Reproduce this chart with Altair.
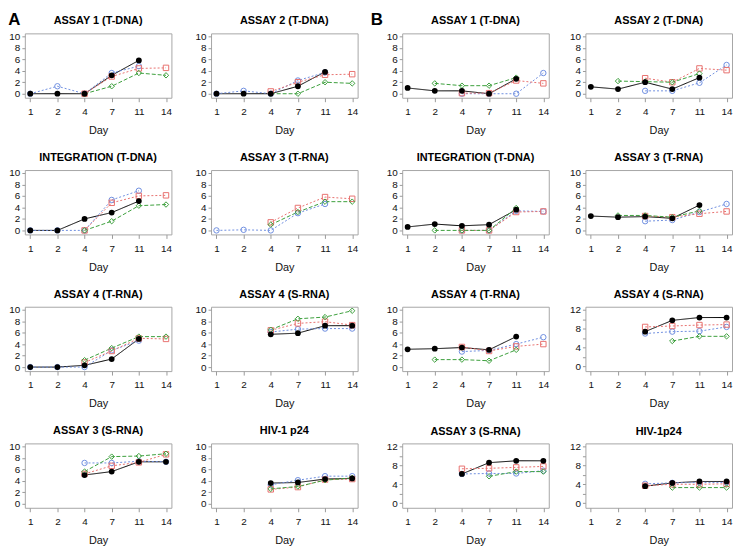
import altair as alt
import pandas as pd

FONT = "Liberation Sans"
DAYS = ["1", "2", "4", "7", "11", "14"]
SERIES = ["K", "B", "R", "G"]
COLORS = ["#000000", "#6f8fe0", "#e8716f", "#3c9f3c"]
DASHES = [[1, 0], [2, 2], [2, 2], [4, 2]]
SHAPES = ["circle", "circle", "square", "diamond"]

# ---- Group A ----
A_assay1_tdna = {"K": [0, 0, 0, 3.2, 5.8, None], "B": [0, 1.3, 0, 3.6, 4.8, None],
                 "R": [None, None, 0, 3.0, 4.4, 4.5], "G": [None, None, 0, 1.3, 3.6, 3.2]}
A_assay2_tdna = {"K": [0, 0, 0, 1.3, 3.8, None], "B": [0, 0.5, 0, 2.3, 3.7, None],
                 "R": [None, None, 0.4, 2.0, 3.3, 3.4], "G": [None, None, 0, 0, 2.0, 1.8]}
A_integration = {"K": [0, 0, 2.0, 3.1, 5.1, None], "B": [0, 0, 0, 5.3, 6.9, None],
                 "R": [None, None, 0, 4.8, 6.0, 6.1], "G": [None, None, 0, 1.6, 4.3, 4.5]}
A_assay3_trna = {"B": [0, 0.1, 0, 3.0, 4.6, None],
                 "R": [None, None, 1.4, 3.9, 5.8, 5.5], "G": [None, None, 1.0, 3.2, 5.0, 5.0]}
A_assay4_trna = {"K": [0, 0, 0.3, 1.4, 4.9, None], "B": [0, 0, 0, 2.9, 4.6, None],
                 "R": [None, None, 0.8, 2.8, 5.0, 4.9], "G": [None, None, 1.2, 3.3, 5.3, 5.3]}
A_assay4_srna = {"K": [None, None, 5.7, 5.9, 7.2, 7.2], "B": [None, None, 6.1, 6.6, 6.7, 6.7],
                 "R": [None, None, 6.4, 7.6, 7.9, 7.3], "G": [None, None, 6.5, 8.4, 8.7, 9.8]}
A_assay3_srna = {"K": [None, None, 5.0, 5.6, 7.3, 7.3], "B": [None, None, 7.1, 7.1, 7.4, 7.3],
                 "R": [None, None, 5.2, 6.6, 7.2, 8.6], "G": [None, None, 5.6, 8.2, 8.3, 8.7]}
A_p24 = {"K": [None, None, 3.6, 3.7, 4.3, 4.4], "B": [None, None, 3.3, 4.1, 4.8, 4.8],
         "R": [None, None, 2.5, 2.9, 4.2, 4.3], "G": [None, None, 2.6, 3.0, 4.1, 4.5]}

# ---- Group B ----
B_assay1_tdna = {"K": [1.0, 0.5, 0.5, 0, 2.6, None], "B": [None, None, 0, 0, 0, 3.6],
                 "R": [None, None, 0.1, 0.1, 2.3, 1.8], "G": [None, 1.8, 1.4, 1.4, 2.8, None]}
B_assay2_tdna = {"K": [1.2, 0.8, 2.0, 0.8, 2.8, None], "B": [None, None, 0.5, 0.5, 1.9, 5.0],
                 "R": [None, None, 2.7, 2.0, 4.4, 4.1], "G": [None, 2.2, 2.1, 2.0, 3.5, None]}
B_integration = {"K": [0.6, 1.1, 0.8, 1.0, 3.6, None], "B": [None, None, 0, 0, 3.4, 3.3],
                 "R": [None, None, 0, 0, 3.2, 3.3], "G": [None, 0, 0, 0, 3.9, None]}
B_assay3_trna = {"K": [2.5, 2.3, 2.4, 2.1, 4.4, None], "B": [None, None, 1.6, 1.8, 3.2, 4.6],
                 "R": [None, None, 2.5, 2.3, 2.9, 3.3], "G": [None, 2.6, 2.6, 2.3, 3.4, None]}
B_assay4_trna = {"K": [3.1, 3.2, 3.4, 3.0, 5.3, None], "B": [None, None, 2.7, 2.9, 4.0, 5.2],
                 "R": [None, None, 3.5, 2.8, 3.6, 4.0], "G": [None, 1.3, 1.3, 1.1, 3.0, None]}
B_assay4_srna = {"K": [None, None, 7.4, 9.8, 10.4, 10.4], "B": [None, None, 7.0, 7.4, 7.5, 8.4],
                 "R": [None, None, 8.4, 8.6, 8.8, 8.9], "G": [None, None, None, 5.4, 6.4, 6.4]}
B_assay3_srna = {"K": [None, None, 6.2, 8.6, 9.0, 9.0], "B": [None, None, 6.2, 6.3, 6.3, 6.9],
                 "R": [None, None, 7.3, 7.4, 7.6, 7.8], "G": [None, None, None, 5.7, 6.7, 6.7]}
B_p24 = {"K": [None, None, 3.6, 4.3, 4.6, 4.6], "B": [None, None, 4.1, 4.3, 4.4, 4.4],
         "R": [None, None, 3.7, 4.0, 4.0, 4.1], "G": [None, None, None, 3.3, 3.3, 3.3]}

A_PANELS = [("ASSAY 1 (T-DNA)", A_assay1_tdna, 10), ("ASSAY 2 (T-DNA)", A_assay2_tdna, 10),
            ("INTEGRATION (T-DNA)", A_integration, 10), ("ASSAY 3 (T-RNA)", A_assay3_trna, 10),
            ("ASSAY 4 (T-RNA)", A_assay4_trna, 10), ("ASSAY 4 (S-RNA)", A_assay4_srna, 10),
            ("ASSAY 3 (S-RNA)", A_assay3_srna, 10), ("HIV-1 p24", A_p24, 10)]
B_PANELS = [("ASSAY 1 (T-DNA)", B_assay1_tdna, 10), ("ASSAY 2 (T-DNA)", B_assay2_tdna, 10),
            ("INTEGRATION (T-DNA)", B_integration, 10), ("ASSAY 3 (T-RNA)", B_assay3_trna, 10),
            ("ASSAY 4 (T-RNA)", B_assay4_trna, 10), ("ASSAY 4 (S-RNA)", B_assay4_srna, 12),
            ("ASSAY 3 (S-RNA)", B_assay3_srna, 12), ("HIV-1p24", B_p24, 12)]

W, H = 148, 65


def panel(title, data, ymax):
    rows = []
    for s in SERIES:
        vals = data.get(s)
        if vals is None:
            continue
        for d, v in zip(DAYS, vals):
            if v is not None:
                rows.append({"day": d, "value": v, "series": s})
    df = pd.DataFrame(rows)
    lo, hi = (-0.7, 10.5) if ymax == 10 else (-1.0, 12.7)
    x = alt.X("day:O", sort=DAYS,
              scale=alt.Scale(type="point", domain=DAYS, padding=0.2),
              axis=alt.Axis(title="Day", labelAngle=0))
    y = alt.Y("value:Q", scale=alt.Scale(domain=[lo, hi], nice=False, zero=False),
              axis=alt.Axis(title=None, values=list(range(0, ymax + 1, 2))))
    color = alt.Color("series:N", scale=alt.Scale(domain=SERIES, range=COLORS), legend=None)
    base = alt.Chart(df)
    lines = base.mark_line(strokeWidth=1).encode(
        x=x, y=y, color=color,
        strokeDash=alt.StrokeDash("series:N", scale=alt.Scale(domain=SERIES, range=DASHES), legend=None))
    opens = base.transform_filter(alt.datum.series != "K").mark_point(
        filled=False, strokeWidth=1, size=30, opacity=1).encode(
        x=x, y=y, color=color,
        shape=alt.Shape("series:N", scale=alt.Scale(domain=SERIES, range=SHAPES), legend=None))
    blacks = base.transform_filter(alt.datum.series == "K").mark_circle(
        size=34, color="black", opacity=1).encode(x=x, y=y)
    return alt.layer(lines, opens, blacks).properties(
        width=W, height=H,
        title=alt.TitleParams(title, fontSize=11, fontWeight="bold", font=FONT,
                              offset=5, anchor="middle", color="black"))


def group(panels, label, label_dx, hspace):
    rows = []
    for i in range(0, 8, 2):
        t1, d1, m1 = panels[i]
        t2, d2, m2 = panels[i + 1]
        rows.append(alt.hconcat(panel(t1, d1, m1), panel(t2, d2, m2), spacing=hspace))
    return alt.vconcat(*rows, spacing=15).properties(
        title=alt.TitleParams(label, fontSize=17, fontWeight="bold", font=FONT, color="black",
                              anchor="start", offset=-14, dx=label_dx))


chart = alt.hconcat(group(A_PANELS, "A", 0, 22), group(B_PANELS, "B", -15, 19), spacing=12).properties(
    padding=0
).configure_view(stroke="#a6a6a6", strokeWidth=1).configure_axis(
    domain=False, grid=False, ticks=True, tickColor="#9a9a9a",
    labelFont=FONT, titleFont=FONT, labelFontSize=10, titleFontSize=11,
    labelColor="#111111", titleColor="#111111", titleFontWeight="normal"
).configure_axisX(tickSize=4, labelPadding=5, titlePadding=8).configure_axisY(
    tickSize=3, labelPadding=2)

chart.save("out.html", embed_options={"renderer": "svg", "actions": False})
